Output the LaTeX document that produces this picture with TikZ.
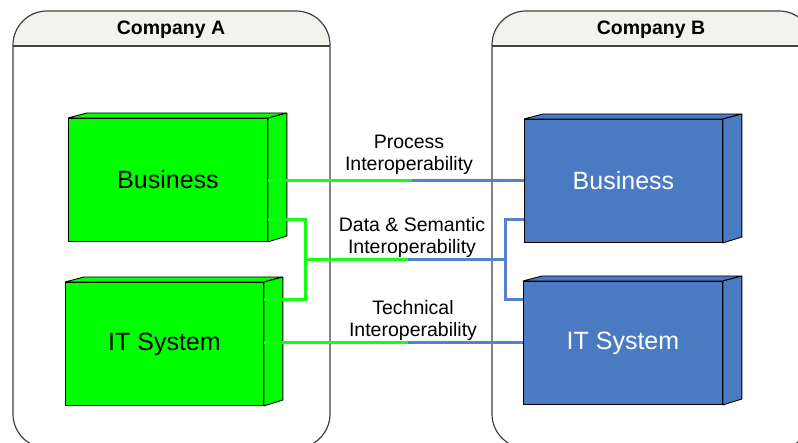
\documentclass[tikz,border=0pt]{standalone}
\usepackage{fontspec}
\setmainfont{Liberation Sans}
\usetikzlibrary{calc}
\definecolor{boxgreen}{HTML}{00FF00}
\definecolor{boxblue}{HTML}{4A7BC2}
\definecolor{linkgreen}{HTML}{11FF11}
\definecolor{linkblue}{HTML}{5583CA}
\definecolor{framegray}{HTML}{404040}
\definecolor{headfill}{HTML}{F3F3EE}

% front face as a node, top and side faces drawn from its anchors
\newcommand\solidbox[8]{%
  \node[cubeface, fill=#6, text=#7, minimum width=#4pt, minimum height=#5pt,
        anchor=north west] (#1) at (#2,#3) {#8};
  \filldraw[cubeedge, fill=#6] (#1.north west) -- ++(19,-5) -- ++(#4,0)
      -- (#1.north east) -- cycle;
  \filldraw[cubeedge, fill=#6] (#1.north east) -- ++(19,-5) -- ++(0,#5)
      -- (#1.south east) -- cycle;
}

\begin{document}
\begin{tikzpicture}[x=1pt, y=-1pt,
  frame/.style={draw=framegray, line width=1.2pt},
  cubeface/.style={draw=black, line width=0.9pt, inner sep=0pt,
                   font=\fontsize{25}{30}\selectfont},
  cubeedge/.style={draw=black, line width=0.9pt, line join=round},
  heading/.style={font=\bfseries\fontsize{19.5}{23}\selectfont},
  linklabel/.style={align=center, font=\fontsize{19.5}{21.5}\selectfont},
  glink/.style={draw=linkgreen, line width=3pt},
  blink/.style={draw=linkblue, line width=3pt}]
\useasboundingbox (0,0) rectangle (798,443);
\clip (0,0) rectangle (798,443);

% company containers with shaded headers
\begin{scope}
  \clip (0,0) rectangle (830,46);
  \fill[headfill, rounded corners=34pt] (13,11) rectangle (330,448);
  \fill[headfill, rounded corners=34pt] (492,11) rectangle (813,448);
\end{scope}
\draw[frame, rounded corners=34pt] (13,11) rectangle (330,448);
\draw[frame, rounded corners=34pt] (492,11) rectangle (813,448);
\draw[frame] (13,46) -- (330,46);
\draw[frame] (492,46) -- (813,46);
\node[heading] (ha) at (171,30) {Company A};
\node[heading] (hb) at (651,30) {Company B};

% systems
\solidbox{gb}{68}{118}{199}{123}{boxgreen}{black}{Business}
\solidbox{gi}{65}{282}{198}{123}{boxgreen}{black}{IT System}
\solidbox{bb}{524}{119}{198}{123}{boxblue}{white}{Business}
\solidbox{bi}{523}{281}{199}{123}{boxblue}{white}{IT System}

% labels
\node[linklabel] (lp) at (409,155) {Process\\Interoperability};
\node[linklabel] (ld) at (412,237.5) {Data \& Semantic\\Interoperability};
\node[linklabel] (lt) at (413,320.5) {Technical\\Interoperability};

% switch points between the two link colours
\coordinate (pm) at (412,181);
\coordinate (dm) at (408,260);
\coordinate (tm) at (408,343);
\coordinate (dg) at (305,260);
\coordinate (db) at (505,260);

% process link
\draw[glink] (gb.east |- pm) -- (pm);
\draw[blink] (pm) -- (bb.west |- pm);

% data and semantic link
\draw[glink] ($(gb.east)+(0,40)$) -| (dg);
\draw[glink] ($(gi.east)+(0,-44)$) -| (dg);
\draw[glink] (dg) -- (dm);
\draw[blink] (dm) -- (db);
\draw[blink] ($(bb.west)+(0,39)$) -| (db);
\draw[blink] ($(bi.west)+(0,-43)$) -| (db);

% technical link
\draw[glink] (gi.east |- tm) -- (tm);
\draw[blink] (tm) -- (bi.west |- tm);
\end{tikzpicture}
\end{document}
